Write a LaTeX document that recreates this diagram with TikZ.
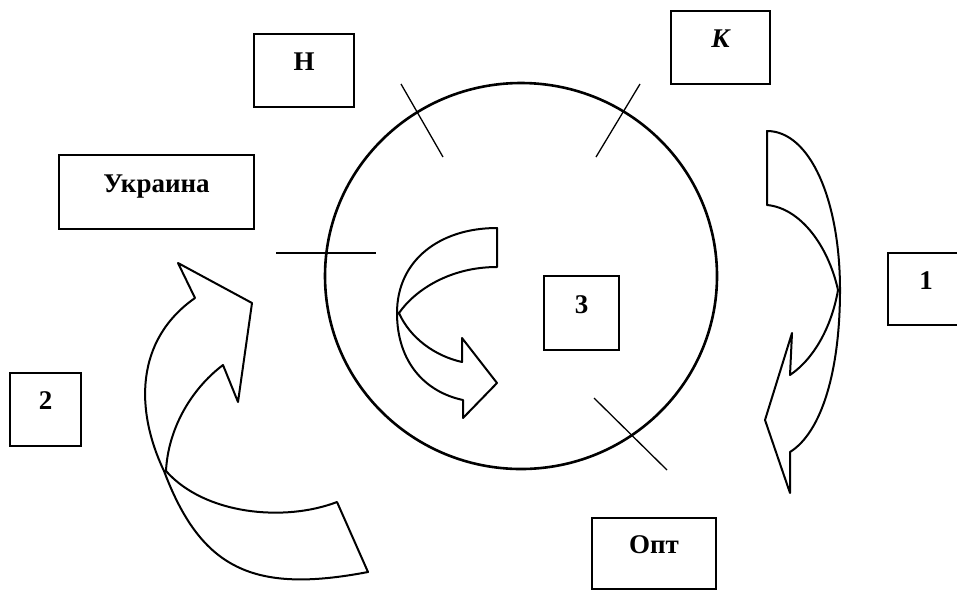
\documentclass[tikz,border=0pt]{standalone}
\usepackage{fontspec}
\setmainfont{Liberation Serif}
\begin{document}
\begin{tikzpicture}[x=1pt,y=-1pt]
\tikzset{
    box/.style={draw, line width=1.8pt, inner sep=0pt, font=\fontsize{27}{27}\selectfont\bfseries, text height=10pt, text depth=10pt},
    band/.style={draw, line width=2pt, line join=round},
    tick/.style={line width=1.3pt},
}
\useasboundingbox (0,0) rectangle (957,590);
\coordinate (mkt) at (521,276); % middle of the market

% Draw the market and its dividing ticks first.
\draw[line width=2.6pt] (mkt) ellipse [x radius=196, y radius=193];
\draw[tick] (276,253) -- (376,253);
\draw[tick] (401,84) -- (443,157);
\draw[tick] (640,84) -- (596,157);
\draw[tick] (594,398) -- (667,470);

% Place the labelled boxes next.
\node[box, minimum width=100pt, minimum height=73pt] (n)   at (304,70.5)  {Н};
\node[box, minimum width=99pt,  minimum height=73pt] (k)   at (720.5,47.5) {\itshape К};
\node[box, minimum width=195pt, minimum height=74pt] (ukr) at (156.5,192) {Украина};
\node[box, minimum width=71pt,  minimum height=73pt] (two) at (45.5,409.5) {2};
\node[box, minimum width=75pt,  minimum height=74pt] (three) at (581.5,313) {3};
\node[box, minimum width=76pt,  minimum height=72pt] (one) at (926,289)   {1};
\node[box, minimum width=124pt, minimum height=71pt] (opt) at (654,553.5) {Опт};

% Draw the curved block arrows last.
% inside the market
\draw[band] (497,228) -- (497,267)
  .. controls (450,267) and (415,290) .. (399,313)
  .. controls (410,338) and (435,356) .. (462,362)
  -- (462,338) -- (497,383) -- (463,418) -- (463,400)
  .. controls (425,392) and (397,362) .. (397,313)
  .. controls (397,260) and (440,228) .. cycle;
% right of the market
\draw[band] (767,131) -- (767,205)
  .. controls (800,208) and (828,245) .. (838,290)
  .. controls (832,325) and (815,358) .. (790,375)
  -- (792,333) -- (765,420) -- (790,493) -- (790,452)
  .. controls (822,432) and (840,370) .. (840,290)
  .. controls (840,200) and (810,131) .. cycle;
% left of the market
\draw[band] (195,298) -- (178,263) -- (252,303) -- (238,402) -- (223,365)
  .. controls (190,390) and (168,430) .. (166,471)
  .. controls (205,515) and (285,522) .. (337,502)
  -- (368,572)
  .. controls (253,594) and (201,569) .. (164,471)
  .. controls (135,410) and (135,340) .. cycle;
\end{tikzpicture}
\end{document}
